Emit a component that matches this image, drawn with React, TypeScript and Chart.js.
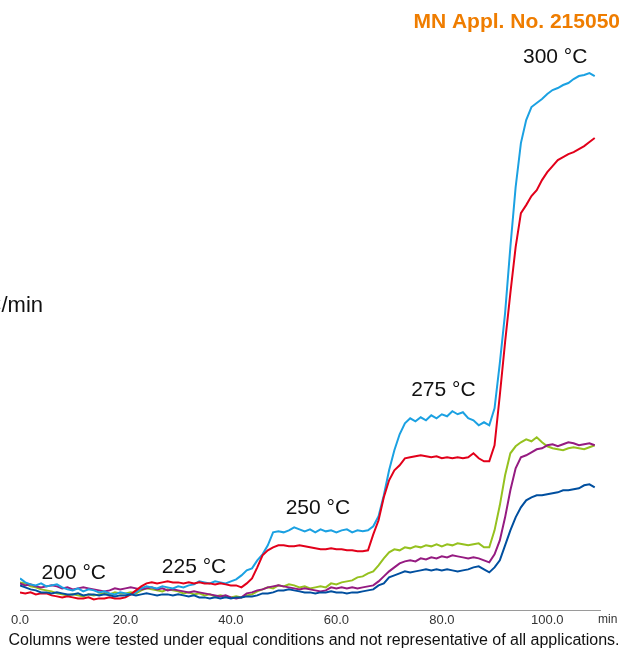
import React, { useEffect, useRef } from "react";
import { Chart, registerables } from "chart.js";

Chart.register(...registerables);

// time axis (min)
const minutes = [
  0, 1, 2, 3, 4, 5, 6, 7, 8, 9,
  10, 11, 12, 13, 14, 15, 16, 17, 18, 19,
  20, 21, 22, 23, 24, 25, 26, 27, 28, 29,
  30, 31, 32, 33, 34, 35, 36, 37, 38, 39,
  40, 41, 42, 43, 44, 45, 46, 47, 48, 49,
  50, 51, 52, 53, 54, 55, 56, 57, 58, 59,
  60, 61, 62, 63, 64, 65, 66, 67, 68, 69,
  70, 71, 72, 73, 74, 75, 76, 77, 78, 79,
  80, 81, 82, 83, 84, 85, 86, 87, 88, 89,
  90, 91, 92, 93, 94, 95, 96, 97, 98, 99,
  100, 101, 102, 103, 104, 105, 106, 107, 108, 109,
];

const cyanSeries = [
  32, 28, 26, 25, 27, 24, 25, 26, 23, 21,
  20, 22, 19, 21, 20, 18, 19, 17, 16, 18,
  17, 16, 18, 22, 24, 23, 22, 24, 23, 22,
  24, 23, 25, 26, 29, 28, 27, 29, 28, 27,
  29, 31, 35, 40, 42, 50, 56, 65, 78, 79,
  78, 80, 83, 81, 79, 81, 78, 81, 79, 80,
  78, 80, 81, 78, 80, 79, 80, 84, 94, 115,
  140, 160, 176, 187, 192, 189, 193, 190, 195, 192,
  196, 194, 199, 196, 198, 192, 190, 185, 188, 185,
  202, 247, 297, 363, 423, 467, 490, 503, 507, 511,
  516, 520, 522, 525, 527, 531, 534, 535, 537, 534,
];

const redSeries = [
  18, 17, 18, 16, 17, 17, 15, 14, 13, 14,
  13, 12, 12, 13, 11, 12, 12, 13, 12, 12,
  13, 16, 20, 24, 27, 28, 27, 28, 29, 28,
  28, 27, 28, 27, 28, 27, 27, 26, 27, 26,
  25, 25, 23, 27, 32, 43, 55, 60, 63, 65,
  65, 64, 64, 65, 64, 63, 62, 61, 61, 62,
  61, 61, 60, 60, 59, 59, 60, 76, 90, 113,
  130, 140, 145, 152, 153, 154, 155, 154, 153, 154,
  152, 153, 152, 153, 152, 153, 157, 152, 149, 149,
  165, 215, 268, 317, 363, 397, 405, 414, 420, 430,
  438, 444, 450, 453, 456, 458, 461, 464, 468, 472,
];

const greenSeries = [
  28, 27, 24, 23, 21, 20, 19, 17, 16, 15,
  16, 15, 14, 16, 15, 16, 17, 16, 18, 17,
  17, 18, 17, 20, 22, 21, 20, 19, 21, 20,
  19, 17, 18, 16, 17, 15, 16, 14, 15, 14,
  13, 14, 13, 15, 16, 19, 21, 23, 22, 25,
  24, 26, 25, 23, 24, 22, 23, 24, 23, 27,
  26, 28, 29, 30, 33, 34, 37, 39, 45, 52,
  58, 61, 60, 63, 62, 64, 63, 65, 64, 66,
  64, 66, 65, 67, 66, 65, 66, 67, 63, 63,
  80, 105, 135, 157, 164, 168, 171, 169, 173, 168,
  164, 162, 161, 160, 162, 163, 162, 161, 163, 165,
];

const purpleSeries = [
  27, 25, 26, 24, 23, 24, 25, 24, 22, 23,
  21, 22, 23, 22, 21, 20, 19, 20, 22, 21,
  22, 23, 22, 21, 22, 23, 21, 22, 20, 21,
  20, 19, 18, 19, 18, 17, 16, 15, 14, 15,
  13, 12, 13, 17, 18, 20, 21, 23, 24, 25,
  24, 23, 22, 21, 22, 21, 20, 19, 20, 23,
  22, 23, 22, 23, 22, 23, 24, 25, 29, 34,
  39, 43, 47, 49, 50, 49, 52, 51, 53, 52,
  54, 53, 55, 54, 53, 52, 53, 52, 50, 48,
  56, 70, 93, 120, 142, 153, 155, 158, 161, 162,
  165, 166, 164, 166, 168, 167, 165, 166, 167, 165,
];

const navySeries = [
  25, 23, 21, 20, 18, 18, 17, 18, 17, 16,
  16, 17, 15, 16, 16, 15, 16, 15, 14, 15,
  15, 16, 15, 16, 17, 16, 15, 16, 16, 15,
  16, 15, 14, 15, 13, 13, 12, 13, 12, 13,
  12, 13, 13, 14, 14, 15, 17, 17, 18, 20,
  20, 21, 20, 19, 18, 18, 17, 18, 18, 19,
  18, 18, 17, 18, 18, 19, 20, 21, 25, 27,
  33, 35, 37, 39, 38, 39, 40, 41, 40, 41,
  40, 41, 40, 39, 40, 41, 43, 44, 41, 38,
  43, 50, 65, 80, 93, 103, 110, 113, 115, 115,
  116, 117, 118, 120, 120, 121, 122, 125, 126, 123,
];

const xTickValues = [0, 20, 40, 60, 80, 100];

// temperature step annotations (label, time in min, signal level)
const tempLabels = ["200 °C", "225 °C", "250 °C", "275 °C", "300 °C"];
const tempLabelMin = [10.2, 33, 56.5, 80.3, 101.5];
const tempLabelLevel = [37, 43, 102, 220, 553];

const titleText = "MN Appl. No. 215050";
const footerText =
  "Columns were tested under equal conditions and not representative of all applications.";
const yUnitText = "°C/min";
const xUnitText = "min";

const FONT = "'Liberation Sans', Arial, Helvetica, sans-serif";

const textPlugin = {
  id: "textPlugin",
  afterDraw(chart: any) {
    const { ctx, scales } = chart;
    const xs = scales.x;
    const ys = scales.y;
    ctx.save();
    // temperature labels
    ctx.fillStyle = "#111111";
    ctx.font = `21px ${FONT}`;
    ctx.textAlign = "center";
    ctx.textBaseline = "middle";
    tempLabels.forEach((t, i) => {
      ctx.fillText(t, xs.getPixelForValue(tempLabelMin[i]), ys.getPixelForValue(tempLabelLevel[i]));
    });
    // title
    ctx.fillStyle = "#ef7d00";
    ctx.font = `bold 21px ${FONT}`;
    ctx.textAlign = "right";
    ctx.fillText(titleText, 620, 22);
    // y unit (partly outside canvas)
    ctx.fillStyle = "#111111";
    ctx.font = `22px ${FONT}`;
    ctx.textAlign = "right";
    ctx.fillText(yUnitText, 43, 306);
    // x unit
    ctx.fillStyle = "#333333";
    ctx.font = `12px ${FONT}`;
    ctx.textAlign = "left";
    ctx.fillText(xUnitText, xs.right - 2, 620);
    // footer
    ctx.fillStyle = "#111111";
    ctx.font = `16px ${FONT}`;
    ctx.textAlign = "center";
    ctx.fillText(footerText, 314, 641);
    ctx.restore();
  },
};

export default function App() {
  const canvasRef = useRef<HTMLCanvasElement | null>(null);

  useEffect(() => {
    if (!canvasRef.current) return;
    const mk = (vals: number[]) => vals.map((v, i) => ({ x: minutes[i], y: v }));
    const common = { pointRadius: 0, borderWidth: 2, tension: 0, fill: false };
    const chart = new Chart(canvasRef.current, {
      type: "line",
      data: {
        datasets: [
          { label: "navy", data: mk(navySeries), borderColor: "#004f9f", ...common },
          { label: "red", data: mk(redSeries), borderColor: "#e2001a", ...common },
          { label: "cyan", data: mk(cyanSeries), borderColor: "#1ba1e2", ...common },
          { label: "purple", data: mk(purpleSeries), borderColor: "#951b81", ...common },
          { label: "green", data: mk(greenSeries), borderColor: "#95c11f", ...common },
        ],
      },
      options: {
        animation: false,
        responsive: true,
        maintainAspectRatio: false,
        layout: { padding: { left: 20, right: 20, top: 60, bottom: 21 } },
        plugins: { legend: { display: false }, tooltip: { enabled: false } },
        scales: {
          x: {
            type: "linear",
            min: 0,
            max: 110,
            grid: { display: false, drawTicks: false },
            border: { display: true, color: "#9a9a9a", width: 1 },
            afterBuildTicks: (axis: any) => {
              axis.ticks = xTickValues.map((v) => ({ value: v }));
            },
            ticks: {
              padding: 2,
              color: "#333333",
              font: { family: FONT, size: 13 },
              maxRotation: 0,
              autoSkip: false,
              callback: (v: any) => Number(v).toFixed(1),
            },
          },
          y: {
            display: false,
            min: 0,
            max: 550,
          },
        },
      },
      plugins: [textPlugin],
    });
    return () => chart.destroy();
  }, []);

  return (
    <div style={{ position: "fixed", left: 0, top: 0, width: 620, height: 651, background: "#fff" }}>
      <canvas ref={canvasRef} />
    </div>
  );
}
